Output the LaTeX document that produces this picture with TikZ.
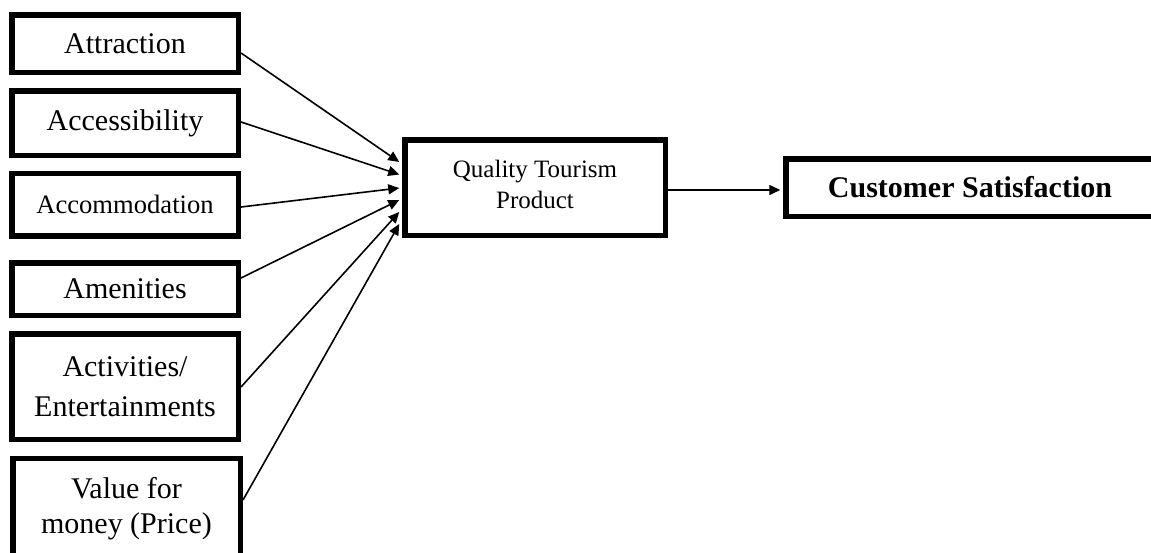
\documentclass[tikz,border=0pt]{standalone}
\usepackage{fontspec}
\setmainfont{Liberation Serif}
\usetikzlibrary{calc,arrows.meta}
\begin{document}
\begin{tikzpicture}[x=0.5pt,y=-0.5pt,
  box/.style={draw, line width=2.75pt, inner sep=0pt, align=center, fill=white},
  bigtext/.style={font=\fontsize{15}{20}\selectfont},
  conn/.style={line width=0.8pt, -{Triangle[length=5.5pt,width=5pt]}},
  ]
\useasboundingbox[fill=white] (0,0) rectangle (1151,552);
% left factor boxes
\node[box, bigtext, minimum width=113.25pt, minimum height=28.75pt] (A1) at (125,43.5) {Attraction};
\node[box, bigtext, minimum width=113.25pt, minimum height=32.25pt] (A2) at (125,123) {Accessibility};
\node[box, font=\fontsize{13.3}{16}\selectfont, minimum width=113.25pt, minimum height=31.25pt] (A3) at (125,204.5) {Accommodation};
\node[box, bigtext, minimum width=113.25pt, minimum height=26.25pt] (A4) at (125,289) {Amenities};
\node[box, bigtext, minimum width=113.25pt, minimum height=52.75pt] (A5) at (125,386.5) {Activities/\\Entertainments};
\node[box, font=\fontsize{15}{17.5}\selectfont, minimum width=113.75pt, minimum height=50.25pt] (A6) at (126.5,508.5) {Value for\\money (Price)};
% middle and right boxes
\node[box, font=\fontsize{12.5}{15.5}\selectfont, minimum width=130.25pt, minimum height=47.75pt] (Q) at (535,187.5) {Quality Tourism\\Product\rule[-2.75pt]{0pt}{2.75pt}};
\node[box, font=\bfseries\fontsize{15}{18}\selectfont, minimum width=184.25pt, minimum height=28.75pt] (CS) at (970,187.5) {Customer Satisfaction};
% arrow end points on the left side of Q
\coordinate (q1) at ($(Q.west)+(-2.75,-25.5)$);
\coordinate (q2) at ($(Q.west)+(-2.75,-13)$);
\coordinate (q3) at ($(Q.west)+(-2.75,0.5)$);
\coordinate (q4) at ($(Q.west)+(-2.75,12.5)$);
\coordinate (q5) at ($(Q.west)+(-2.75,24.5)$);
\coordinate (q6) at ($(Q.west)+(-2.75,36.5)$);
% connectors
\draw[conn] ($(A1.east)+(0,9.5)$) -- (q1);
\draw[conn] ($(A2.east)+(0,-1)$) -- (q2);
\draw[conn] ($(A3.east)+(0,2.5)$) -- (q3);
\draw[conn] ($(A4.east)+(0,-11)$) -- (q4);
\draw[conn] ($(A5.east)+(0,0.5)$) -- (q5);
\draw[conn] ($(A6.east)+(0,-8.5)$) -- (q6);
\draw[conn] ($(Q.east)+(0,2.5)$) -- ($(CS.west)+(-2.75,2.5)$);
\end{tikzpicture}
\end{document}
